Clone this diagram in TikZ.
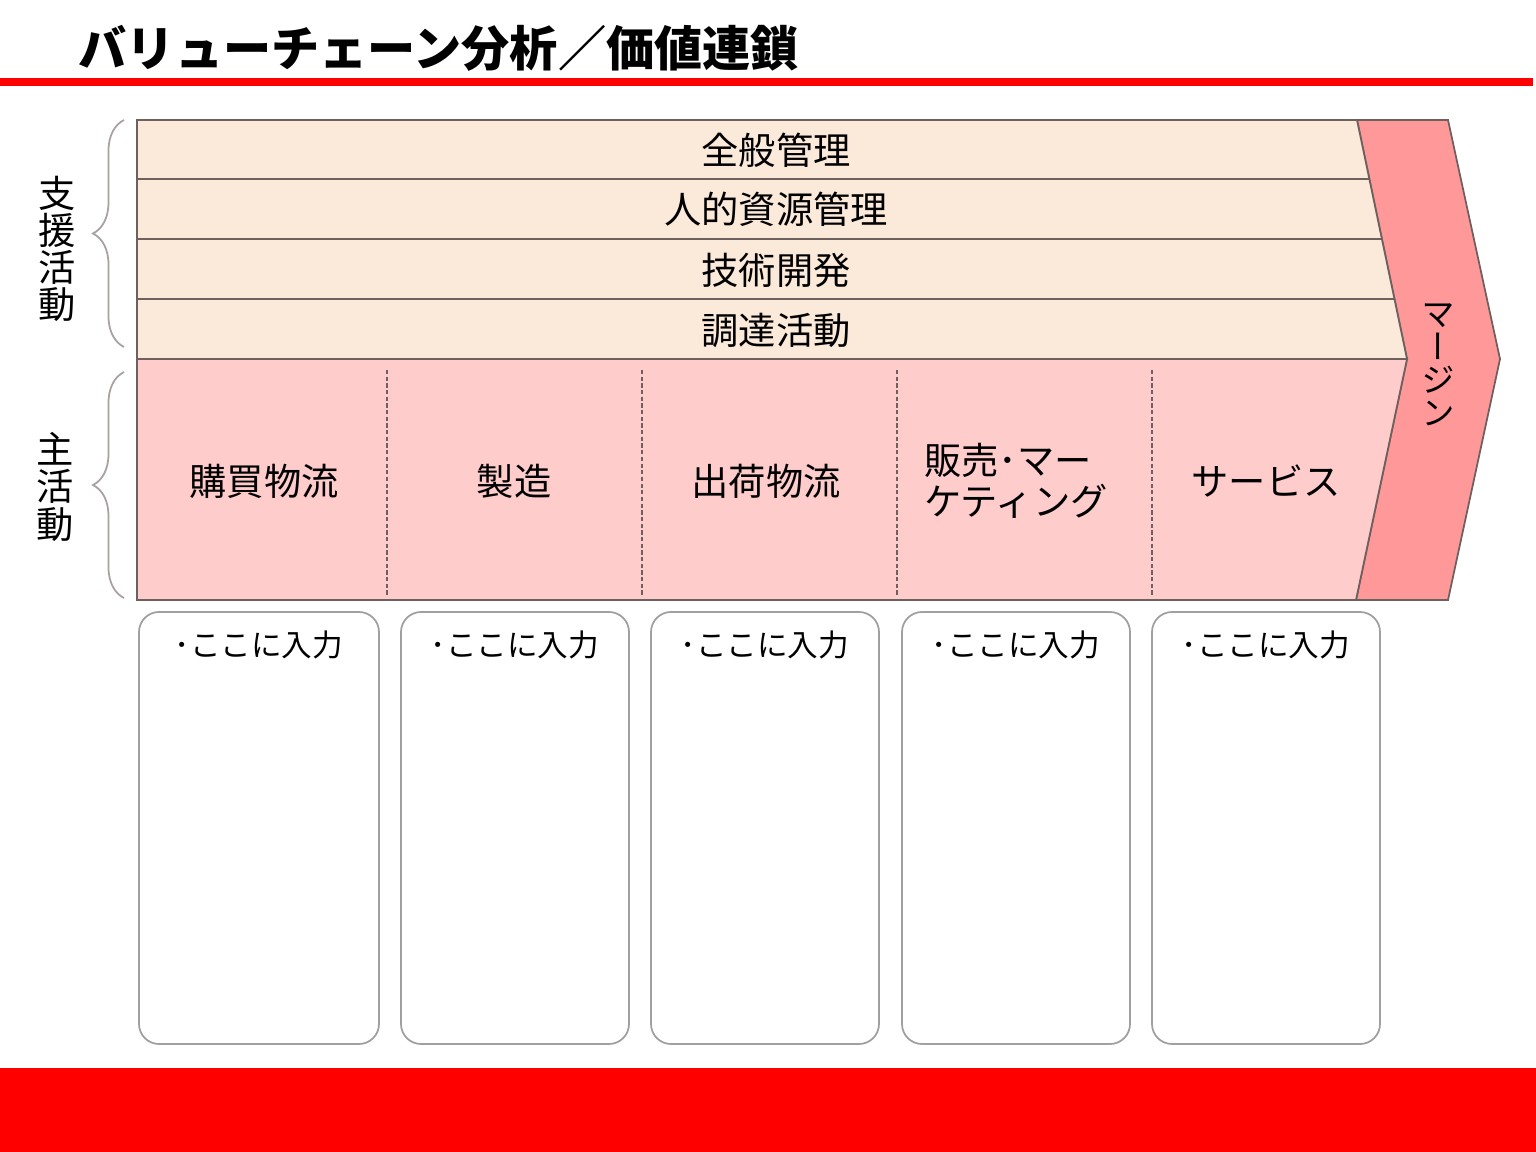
\documentclass[tikz,border=0pt]{standalone}
\usepackage{fontspec}
\setmainfont{Noto Sans CJK JP}
\newfontfamily\tate[RawFeature=+vert]{Noto Sans CJK JP}
\usepackage{tikz}
\usetikzlibrary{positioning, decorations.pathreplacing, calc}

\definecolor{shien}{HTML}{FBE9DA}
\definecolor{shu}{HTML}{FFCCCC}
\definecolor{margin}{HTML}{FF9999}
\definecolor{rim}{HTML}{6F6060}
\definecolor{boxrim}{HTML}{A0A0A0}

\tikzset{
	rowlabel/.style={inner sep=0pt, font=\fontsize{10.6}{12}\selectfont},
	sidelabel/.style={inner sep=0pt, align=center, font=\fontsize{10.6}{10.6}\selectfont},
	inputbox/.style={draw=boxrim, line width=0.5pt, rounded corners=0.2cm},
	inputtext/.style={inner sep=0pt, font=\fontsize{8.7}{10}\selectfont},
	sep/.style={dash pattern=on 1.2pt off 0.7pt, line width=0.5pt, draw=rim},
	curly/.style={draw=rim!60, line width=0.5pt, decorate, decoration={brace, amplitude=0.31cm}}
}

\begin{document}
\begin{tikzpicture}[x=0.01cm, y=-0.01cm]

		\useasboundingbox (0,0) rectangle (1536,1152);

		% title and red bars
		\node[anchor=west, inner sep=0pt, font=\fontsize{13.7}{14}\selectfont\bfseries] (title) at (78,48) {バリューチェーン分析／価値連鎖};
		\fill[red] (0,78) rectangle (1533,86);
		\fill[red] (0,1068) rectangle (1536,1152);

		% margin chevron
		\draw[fill=margin, draw=rim, line width=0.5pt] (1357,120) -- (1448,120) -- (1500,359) -- (1448,600) -- (1356,600) -- (1407,359) -- cycle;

		% support activities
		\draw[fill=shien, draw=rim, line width=0.5pt] (137,120) -- (1357,120) -- (1407,359) -- (137,359) -- cycle;
		\draw[rim, line width=0.5pt] (137,179) -- ($(1357,120)!0.247!(1407,359)$);
		\draw[rim, line width=0.5pt] (137,239) -- ($(1357,120)!0.498!(1407,359)$);
		\draw[rim, line width=0.5pt] (137,299) -- ($(1357,120)!0.749!(1407,359)$);

		\node[rowlabel] (kanri) at (776,150) {全般管理};
		\node[rowlabel] (jinji) at (776,209) {人的資源管理};
		\node[rowlabel] (gijutsu) at (776,270) {技術開発};
		\node[rowlabel] (chotatsu) at (776,330) {調達活動};

		% primary activities
		\draw[fill=shu, draw=rim, line width=0.5pt] (137,359) -- (1407,359) -- (1356,600) -- (137,600) -- cycle;
		\draw[sep] (387,370) -- (387,596);
		\draw[sep] (642,370) -- (642,596);
		\draw[sep] (897,370) -- (897,596);
		\draw[sep] (1152,370) -- (1152,596);

		\node[rowlabel] (konyu) at (264,481) {購買物流};
		\node[rowlabel] (seizo) at (514,481) {製造};
		\node[rowlabel] (shukka) at (766,481) {出荷物流};
		\node[sidelabel, align=left, font=\fontsize{10.6}{11.8}\selectfont] (hanbai) at (1016,481) {販売･マー\\ケティング};
		\node[rowlabel] (service) at (1266,481) {サービス};

		\node[sidelabel, font=\tate\fontsize{9.6}{9.4}\selectfont] (margintext) at (1438,365) {マ\\ー\\ジ\\ン};

		% braces
		\draw[curly] (124,347) -- (124,120);
		\draw[curly] (124,598) -- (124,372);
		\node[sidelabel] (shienlabel) at (57,249) {支\\援\\活\\動};
		\node[sidelabel] (shulabel) at (55,487) {主\\活\\動};

		% input boxes
		\draw[inputbox] (139,612) rectangle (379,1044);
		\draw[inputbox] (401,612) rectangle (629,1044);
		\draw[inputbox] (651,612) rectangle (879,1044);
		\draw[inputbox] (902,612) rectangle (1130,1044);
		\draw[inputbox] (1152,612) rectangle (1380,1044);

		\node[inputtext] (in1) at (259,645) {･ここに入力};
		\node[inputtext] (in2) at (515,645) {･ここに入力};
		\node[inputtext] (in3) at (765,645) {･ここに入力};
		\node[inputtext] (in4) at (1016,645) {･ここに入力};
		\node[inputtext] (in5) at (1266,645) {･ここに入力};

\end{tikzpicture}
\end{document}
